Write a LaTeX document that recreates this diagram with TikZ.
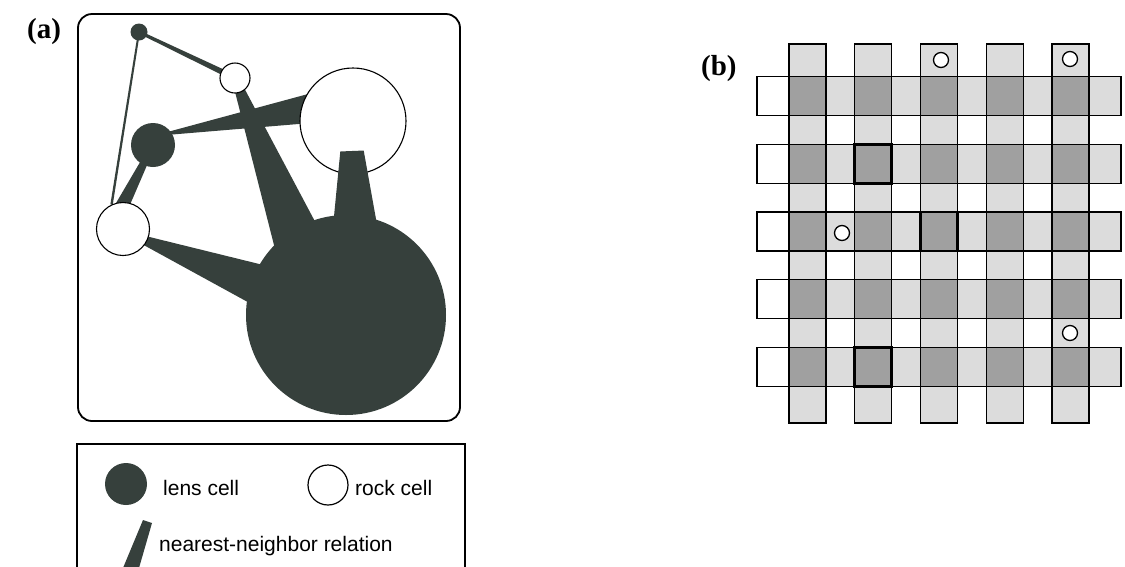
\documentclass[tikz,border=0pt]{standalone}
\usepackage{fontspec}
\setmainfont{Liberation Serif}
\newfontfamily\arialfont{Liberation Sans}
\usetikzlibrary{calc}
\definecolor{dk}{HTML}{36403C}
\definecolor{lightcell}{HTML}{DCDCDC}
\definecolor{darkcell}{HTML}{A0A0A0}
\pgfdeclarelayer{background}
\pgfdeclarelayer{links}
\pgfsetlayers{background,links,main}
\newcommand\taper[4]{\fill[link] ($(#1)!#3!90:(#2)$) -- ($(#2)!#4!-90:(#1)$) -- ($(#2)!#4!90:(#1)$) -- ($(#1)!#3!-90:(#2)$) -- cycle;}
\begin{document}
\begin{tikzpicture}[x=1pt,y=-1pt,
  link/.style={fill=dk},
  lens/.style={circle,fill=dk,inner sep=0pt,minimum size=#1},
  rock/.style={circle,draw=black,fill=white,line width=1.1pt,inner sep=0pt,minimum size=#1},
  legtext/.style={font=\arialfont\fontsize{21}{21}\selectfont,inner sep=0pt,anchor=base west},
  panellabel/.style={font=\bfseries\fontsize{29}{29}\selectfont,inner sep=0pt,anchor=base west},
  strip/.style={draw=black,fill=lightcell,line width=1.2pt},
  blank/.style={draw=black,fill=white,line width=1.2pt},
  cell/.style={draw=black,fill=darkcell,line width=1.2pt},
  boldcell/.style={draw=black,fill=darkcell,line width=2.6pt},
  hole/.style={circle,draw=black,fill=white,line width=1.3pt,inner sep=0pt,minimum size=15pt}]
\useasboundingbox (0,0) rectangle (1125,566);
\clip (0,0) rectangle (1125,566);
\begin{pgfonlayer}{background}
\fill[white] (0,0) rectangle (1125,566);
\end{pgfonlayer}

% ---------- panel (a) ----------
\node[panellabel] (labA) at (27,38) {(a)};
\draw[line width=1.8pt,rounded corners=14pt] (78,14) rectangle (460,421);

\node[lens=17pt] (lensA) at (139,32) {};
\node[rock=30pt] (rockA) at (235,78) {};
\node[rock=106pt] (rockB) at (353,121) {};
\node[lens=44pt] (lensB) at (153,145) {};
\node[rock=53pt] (rockC) at (123,229) {};
\node[lens=200pt] (lensC) at (346,315) {};

\begin{pgfonlayer}{links}
\taper{lensA.center}{rockA.center}{1.5pt}{3pt}
\taper{lensA.center}{rockC.115}{1pt}{1.2pt}
\coordinate (e3) at ($(lensC.center)+(-33,-35)$);
\taper{rockA.center}{e3}{3.4pt}{29.4pt}
\coordinate (s4) at ($(lensB.center)+(0,-9)$);
\coordinate (e4) at ($(rockB.center)+(-23,-16)$);
\taper{s4}{e4}{0.1pt}{16.4pt}
\coordinate (e5) at ($(rockC.center)+(-10,-5)$);
\taper{lensB.center}{e5}{2.5pt}{8pt}
\coordinate (s7) at ($(rockC.center)+(0,3)$);
\coordinate (e7) at ($(lensC.center)+(-56,-18)$);
\taper{s7}{e7}{1.5pt}{24.9pt}
\end{pgfonlayer}
\coordinate (s6) at ($(rockB.center)+(-1,30)$);
\coordinate (e6) at ($(lensC.center)+(10,-65)$);
\taper{s6}{e6}{11.7pt}{25.4pt}

% ---------- legend ----------
\draw[line width=1.3pt] (77,575) -- (77,444) -- (465,444) -- (465,575);
\node[lens=42pt] (legLens) at (126,484) {};
\node[rock=40pt,line width=1.2pt] (legRock) at (328,485) {};
\node[legtext] (tLens) at (163,495) {lens cell};
\node[legtext] (tRock) at (355,495) {rock cell};
\fill[link] (143,520) -- (152,523) -- (139,568) -- (123,568) -- cycle;
\node[legtext] (tNN) at (159,551) {nearest-neighbor relation};

% ---------- panel (b) ----------
\node[panellabel] (labB) at (701,75) {(b)};
\foreach \j in {0,...,4}{
  \pgfmathsetmacro\yy{96+67.75*\j}
  \draw[strip] (757,\yy-19.5) rectangle (1121,\yy+19.5);
  \draw[blank] (757,\yy-19.5) rectangle (789,\yy+19.5);
}
\foreach \i in {0,...,4}{
  \pgfmathsetmacro\xx{807.5+65.75*\i}
  \draw[strip] (\xx-18.5,44) rectangle (\xx+18.5,423);
}
\foreach \i in {0,...,4}{
  \foreach \j in {0,...,4}{
    \pgfmathsetmacro\xx{807.5+65.75*\i}
    \pgfmathsetmacro\yy{96+67.75*\j}
    \draw[cell] (\xx-18.5,\yy-19.5) rectangle (\xx+18.5,\yy+19.5);
  }
}
\foreach \i/\j in {1/1,2/2,1/4}{
  \pgfmathsetmacro\xx{807.5+65.75*\i}
  \pgfmathsetmacro\yy{96+67.75*\j}
  \draw[boldcell] (\xx-18.5,\yy-19.5) rectangle (\xx+18.5,\yy+19.5);
}
\node[hole] (h1) at (941,60) {};
\node[hole] (h2) at (1070,59) {};
\node[hole] (h3) at (842,233) {};
\node[hole] (h4) at (1070,333) {};
\end{tikzpicture}
\end{document}
